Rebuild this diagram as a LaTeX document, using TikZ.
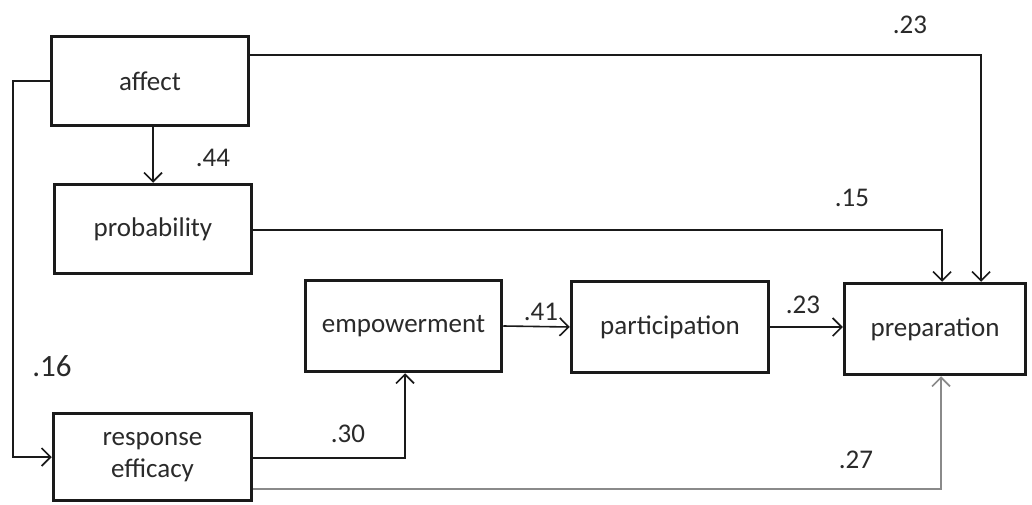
\documentclass[tikz,border=0pt]{standalone}
\usepackage{fontspec}
\setmainfont{Carlito}
\usetikzlibrary{arrows.meta}
\definecolor{ink}{HTML}{1A1A1A}
\definecolor{txt}{HTML}{2A2A2A}
\definecolor{grayline}{HTML}{8A8A8A}
\begin{document}
\begin{tikzpicture}[x=1pt,y=-1pt,
  box/.style={draw=ink, line width=3.5pt, rectangle, align=center, text=txt,
    font=\fontsize{27}{32}\selectfont, inner sep=0pt},
  conn/.style={draw=ink, line width=1.6pt, -{Straight Barb[length=9pt,width=18pt,line width=1.6pt]}},
  lbl/.style={text=txt, font=\fontsize{27}{30}\selectfont, inner sep=0pt},
]
\useasboundingbox (0,0) rectangle (1032,505);
\fill[white] (0,0) rectangle (1032,505);

\node[box, minimum width=197pt, minimum height=89pt] (affect) at (150,81) {affect};
\node[box, minimum width=197pt, minimum height=89pt] (prob) at (153,229) {probability};
\node[box, minimum width=196pt, minimum height=91pt] (emp) at (403.5,326) {empowerment};
\node[box, minimum width=197pt, minimum height=91pt] (part) at (670,327) {participation};
\node[box, minimum width=181pt, minimum height=91pt] (prep) at (935,329) {preparation};
\node[box, minimum width=198pt, minimum height=87pt] (resp) at (152.5,457) {response\\efficacy};

\coordinate (aL) at (13,81);
\coordinate (aR) at (981,55);
\coordinate (pR) at (942,230);
\coordinate (rE) at (405,458);
\coordinate (rG) at (941,489);

% affect -> response efficacy
\draw[conn] (affect.west) -- (aL) |- (resp.west);
% affect -> probability
\draw[conn, line width=2.6pt] (affect.south -| prob.north) -- (prob.north);
% affect -> preparation
\draw[conn] (affect.east |- aR) -- (aR) -- (aR |- prep.north);
% probability -> preparation
\draw[conn] (prob.east |- pR) -- (pR) -- (pR |- prep.north);
% empowerment -> participation
\draw[conn] (emp.east) -- (part.west);
% participation -> preparation
\draw[conn] (part.east) -- (prep.west |- part.east);
% response -> empowerment
\draw[conn] (resp.east |- rE) -- (rE) -- (rE |- emp.south);
% response -> preparation
\draw[conn, draw=grayline, line width=2.4pt] (resp.east |- rG) -- (rG) -- (rG |- prep.south);

\node[lbl] (l1) at (910,25) {.23};
\node[lbl] (l2) at (213,158) {.44};
\node[lbl] (l3) at (852,198) {.15};
\node[lbl] (l4) at (541,312) {.41};
\node[lbl] (l5) at (803,305) {.23};
\node[lbl, font=\fontsize{31}{34}\selectfont] (l6) at (52,366) {.16};
\node[lbl] (l7) at (348,434) {.30};
\node[lbl] (l8) at (856,460) {.27};
\end{tikzpicture}
\end{document}
